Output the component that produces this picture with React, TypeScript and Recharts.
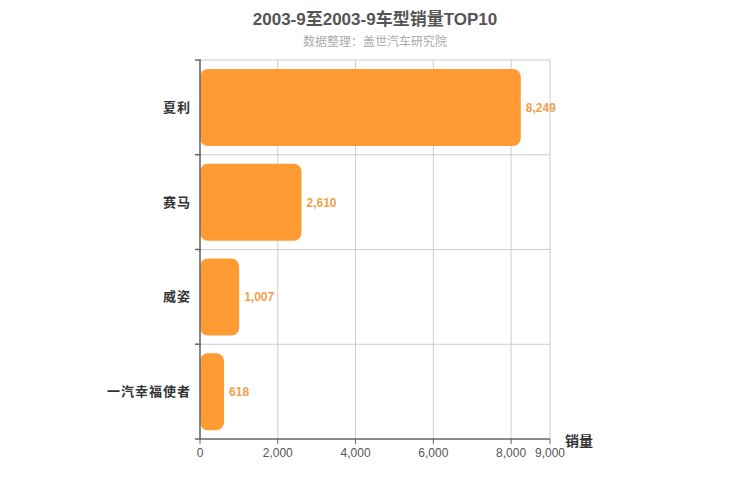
import React from 'react'
import {
  BarChart,
  Bar,
  XAxis,
  YAxis,
  CartesianGrid,
  LabelList,
} from 'recharts'

const models = ['夏利', '赛马', '威姿', '一汽幸福使者']
const sales = [8249, 2610, 1007, 618]
const xTicks = [0, 2000, 4000, 6000, 8000, 9000]

const title = '2003-9至2003-9车型销量TOP10'
const subtitle = '数据整理：盖世汽车研究院'
const axisName = '销量'

const data = models.map((name, i) => ({ name, value: sales[i] }))

const FONT = '"Liberation Sans", Arial, "Noto Sans CJK SC", sans-serif'
const WIDTH = 750
const HEIGHT = 500
const MARGIN = { top: 60, right: 200, bottom: 31, left: 0 }
const PLOT_H = HEIGHT - MARGIN.top - MARGIN.bottom - 30
const BAND = PLOT_H / models.length

// category label plus a tick at the top edge of its band (and bottom edge for the last)
const CategoryTick = (props: any) => {
  const { x, y, payload, index } = props
  const top = y - BAND / 2
  const bottom = y + BAND / 2
  return (
    <g>
      <line x1={x + 3} x2={x + 9} y1={top} y2={top} stroke="#666" strokeWidth={1.5} />
      {index === models.length - 1 && (
        <line x1={x + 3} x2={x + 9} y1={bottom} y2={bottom} stroke="#666" strokeWidth={1.5} />
      )}
      <text
        x={x - 1}
        y={y}
        textAnchor="end"
        dominantBaseline="central"
        fill="#333"
        fontSize={13}
        fontWeight="bold"
        letterSpacing={1}
        fontFamily={FONT}>
        {payload.value}
      </text>
    </g>
  )
}

const App = () => (
  <div
    style={{
      position: 'absolute',
      left: 0,
      top: 0,
      width: WIDTH,
      height: HEIGHT,
      background: '#fff',
      fontFamily: FONT,
    }}>
    <div
      style={{
        position: 'absolute',
        top: 5,
        width: WIDTH,
        textAlign: 'center',
        fontSize: 17,
        fontWeight: 'bold',
        color: '#555',
      }}>
      {title}
    </div>
    <div
      style={{
        position: 'absolute',
        top: 32,
        width: WIDTH,
        textAlign: 'center',
        fontSize: 12,
        color: '#aaa',
      }}>
      {subtitle}
    </div>
    <div
      style={{
        position: 'absolute',
        left: 565,
        top: 430,
        fontSize: 14,
        fontWeight: 'bold',
        color: '#333',
      }}>
      {axisName}
    </div>
    <BarChart
      width={WIDTH}
      height={HEIGHT}
      data={data}
      layout="vertical"
      margin={MARGIN}
      style={{ position: 'absolute', left: 0, top: 0 }}>
      <CartesianGrid
        stroke="#ccc"
        horizontalCoordinatesGenerator={({ offset }: any) =>
          models.map((_, i) => offset.top + (offset.height / models.length) * i)
        }
      />
      <XAxis
        type="number"
        domain={[0, 9000]}
        ticks={xTicks}
        interval={0}
        tickFormatter={(v: number) => v.toLocaleString('en-US')}
        axisLine={{ stroke: '#666', strokeWidth: 1.5 }}
        tickLine={{ stroke: '#666' }}
        tickSize={5}
        tick={{ fill: '#555', fontSize: 12, fontFamily: FONT, dy: 2 }}
      />
      <YAxis
        type="category"
        dataKey="name"
        width={200}
        axisLine={{ stroke: '#666', strokeWidth: 1.5 }}
        tickLine={false}
        tick={<CategoryTick />}
        interval={0}
      />
      <Bar
        dataKey="value"
        fill="#ff9b33"
        barSize={77}
        radius={8}
        isAnimationActive={false}>
        <LabelList
          dataKey="value"
          position="right"
          offset={5}
          formatter={(v: number) => v.toLocaleString('en-US')}
          fill="#f0a04e"
          fontSize={12}
          fontWeight="bold"
          fontFamily={FONT}
        />
      </Bar>
    </BarChart>
  </div>
)

export default App
